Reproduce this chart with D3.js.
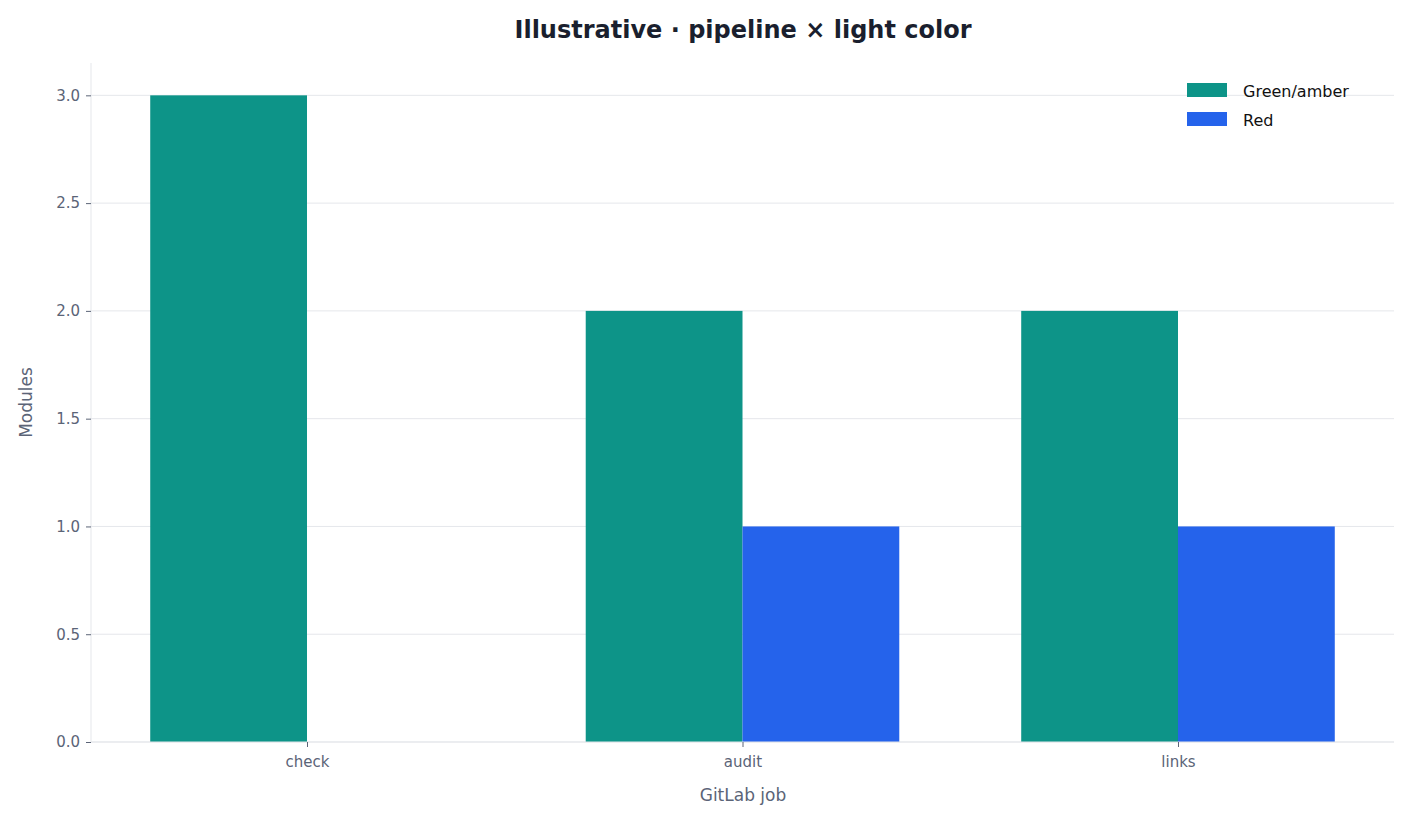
<!DOCTYPE html>
<html><head><meta charset="utf-8">
<script src="https://cdn.jsdelivr.net/npm/d3@7"></script>
<style>body{margin:0;background:#fff;font-family:"DejaVu Sans",sans-serif;}</style>
</head><body><svg id="c" width="1410" height="821"></svg>
<script>
const categories = ["check","audit","links"];
const greenAmber = [3,2,2];
const red = [0,1,1];
const yTicks = [0,0.5,1.0,1.5,2.0,2.5,3.0];
const seriesNames = ["Green/amber","Red"];
const colors = ["#0d9488","#2563eb"];

const svg = d3.select("#c");
const L=91,R=1394,T=63,B=742;
const bw=0.36;
const x = d3.scaleLinear().domain([-0.496,2.496]).range([L,R]);
const y = d3.scaleLinear().domain([0,3.15]).range([B,T]);
const tc="#5b6477";

// grid
svg.append("g").selectAll("line").data(yTicks).join("line")
 .attr("x1",L).attr("x2",R).attr("y1",d=>y(d)).attr("y2",d=>y(d))
 .attr("stroke","#e5e7eb").attr("stroke-width",1);

// bars
[greenAmber,red].forEach((s,k)=>{
 svg.append("g").selectAll("rect").data(s).join("rect")
  .attr("x",(d,i)=>x(i+(k?0:-bw))).attr("width",x(bw)-x(0))
  .attr("y",d=>y(d)).attr("height",d=>y(0)-y(d)).attr("fill",colors[k]);
});

// axes
const ya = svg.append("g").attr("transform",`translate(${L},0)`)
 .call(d3.axisLeft(y).tickValues(yTicks).tickFormat(d3.format(".1f")).tickSize(5).tickPadding(6));
const xa = svg.append("g").attr("transform",`translate(0,${B})`)
 .call(d3.axisBottom(x).tickValues([0,1,2]).tickFormat(i=>categories[i]).tickSize(5).tickPadding(9));
[ya,xa].forEach(a=>{
 a.selectAll("text").attr("fill",tc).style("font-size","15px").style("font-family","DejaVu Sans");
 a.selectAll("line").attr("stroke",tc);
 a.select(".domain").attr("stroke","#e5e7eb");
});
ya.select(".domain").attr("d",`M0,${T}V${B}`);
xa.select(".domain").attr("d",`M${L},0H${R}`);

svg.append("text").attr("x",743).attr("y",801).attr("text-anchor","middle")
 .attr("fill",tc).style("font-size","17px").text("GitLab job");
svg.append("text").attr("transform",`translate(32,${(T+B)/2}) rotate(-90)`).attr("text-anchor","middle")
 .attr("fill",tc).style("font-size","17px").text("Modules");
svg.append("text").attr("x",743).attr("y",38).attr("text-anchor","middle")
 .attr("fill","#1a1f2e").style("font-size","24px").style("font-weight","bold")
 .text("Illustrative · pipeline × light color");

// legend
seriesNames.forEach((n,k)=>{
 svg.append("rect").attr("x",1187).attr("y",83+k*29).attr("width",40).attr("height",14).attr("fill",colors[k]);
 svg.append("text").attr("x",1243).attr("y",97+k*29).style("font-size","16px").attr("fill","#111").text(n);
});
</script></body></html>
